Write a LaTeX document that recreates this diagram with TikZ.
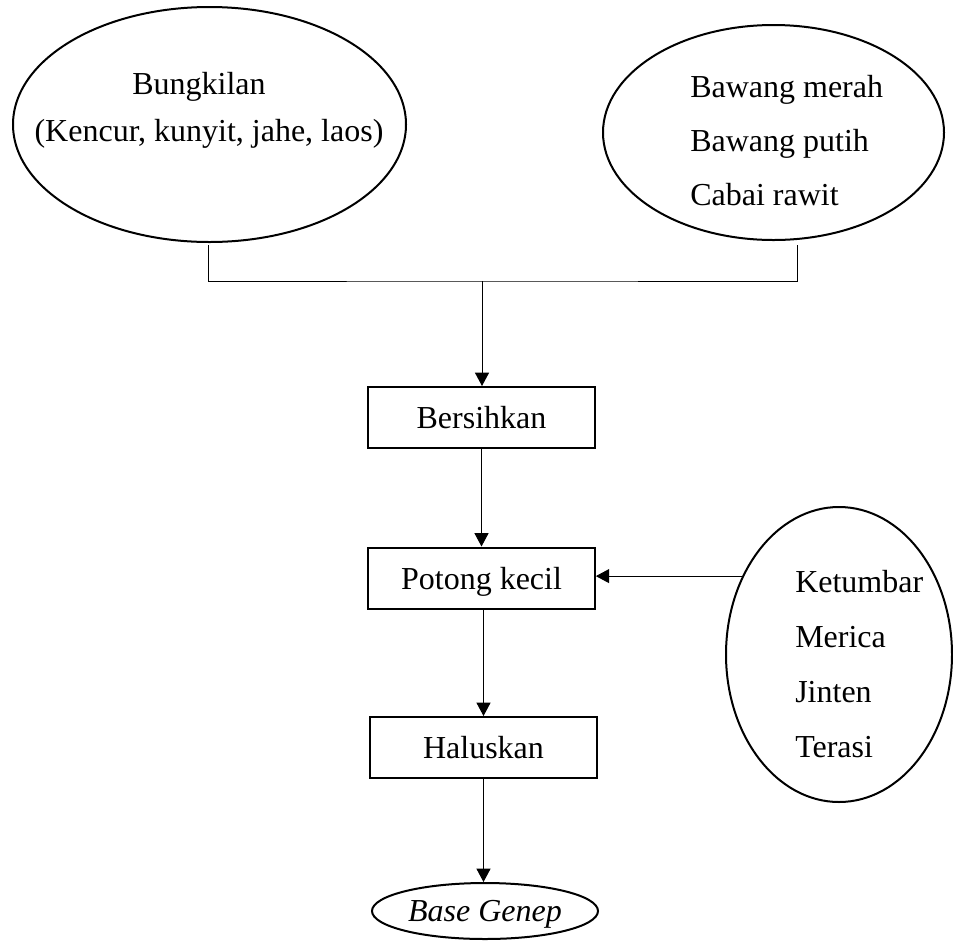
\documentclass[tikz,border=0pt]{standalone}
\usepackage{fontspec}
\setmainfont{Liberation Serif}
\usetikzlibrary{arrows.meta,shapes.geometric,positioning}
\tikzset{
    box/.style={draw, line width=1.5pt, minimum width=170pt, minimum height=45.75pt, inner sep=0pt, text depth=0pt},
    oval/.style={draw, ellipse, line width=1.5pt, inner sep=0pt},
    wire/.style={line width=0.75pt},
    flow/.style={wire, -{Triangle[length=10pt,width=10.5pt]}},
    lbl/.style={inner sep=0pt, anchor=base west},
}

\begin{document}
\begin{tikzpicture}[x=0.75pt, y=-0.75pt, font=\fontsize{24}{29}\selectfont]
    \useasboundingbox (0,0) rectangle (953,940);
    % bahan
    \node[oval, minimum width=294.75pt, minimum height=176.25pt] (bung) at (209.5,124.5) {};
    \node[lbl, anchor=base] (bunglbl) at (199,94) {Bungkilan};
    \node[lbl, anchor=base] (kencurlbl) at (209,141) {(Kencur, kunyit, jahe, laos)};
    \node[oval, minimum width=255.75pt, minimum height=161.25pt] (bawang) at (773.5,132.5) {};
    \foreach \name [count=\k] in {Bawang merah, Bawang putih, Cabai rawit}
        \node[lbl] (bw\k) at (690, 43+54*\k) {\name};
    \node[oval, minimum width=169.5pt, minimum height=221.25pt] (rempah) at (839,654.5) {};
    \foreach \name [count=\k] in {Ketumbar, Merica, Jinten, Terasi}
        \node[lbl] (rp\k) at (795, 537+55*\k) {\name};
    % proses
    \node[box] (bersih) at (481.5,417.5) {Bersihkan};
    \node[box] (potong) at (481.5,578) {Potong kecil};
    \node[box] (halus) at (483.5,747.5) {Haluskan};
    \node[oval, minimum width=169.5pt, minimum height=42pt, text depth=0pt] (base) at (485,911) {\itshape Base Genep};
    % garis
    \coordinate (bungfoot) at (208,245);
    \coordinate (bawangfoot) at (797,245);
    \coordinate (join) at (482,281);
    \draw[wire] (bungfoot) |- (join) -| (bawangfoot);
    \draw[flow] (join) -- (join |- bersih.north);
    \draw[flow] (bersih) -- (potong);
    \draw[flow] (halus.north |- potong.south) -- (halus.north);
    \draw[flow] (halus.south) -- (halus.south |- base.north);
    \draw[flow] (rempah.141) -- (rempah.141 -| potong.east);
\end{tikzpicture}
\end{document}
